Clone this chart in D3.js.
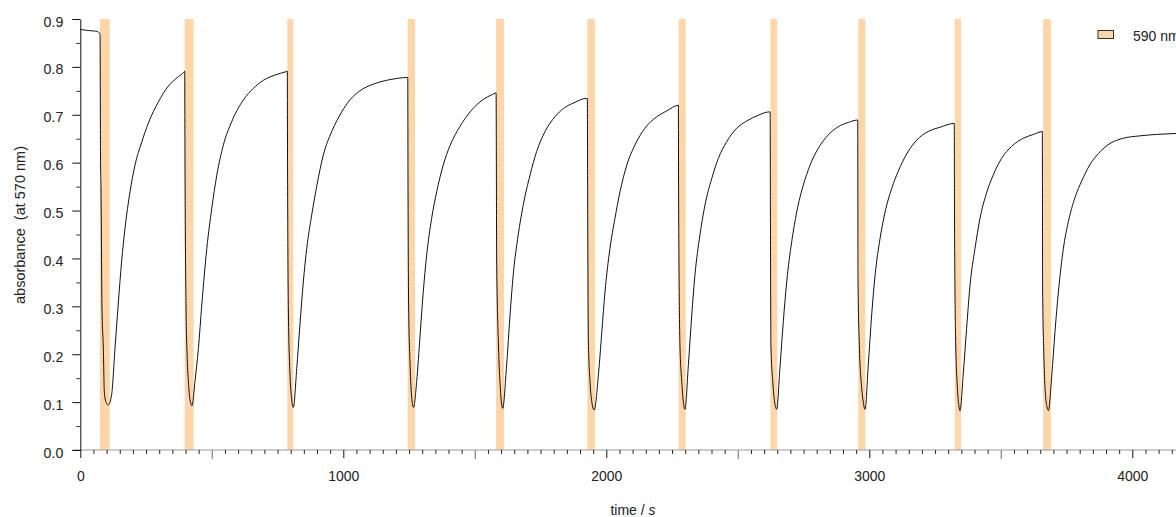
<!DOCTYPE html>
<html>
<head>
<meta charset="utf-8">
<script src="https://cdn.jsdelivr.net/npm/d3@7"></script>
<style>
  html, body { margin: 0; padding: 0; background: #fff; }
  svg { display: block; font-family: "Liberation Sans", Arial, sans-serif; }
</style>
</head>
<body>
<svg id="chart" width="1176" height="517"></svg>
<script>
// ---- data ----
const bandStart = [75, 397, 787, 1245, 1581, 1928, 2275, 2624, 2958, 3325, 3661];
const bandEnd   = [112, 431, 810, 1273, 1611, 1957, 2302, 2650, 2985, 3349, 3691];
const legendLabels = ["590 nm"];
const xTickLabels = [0, 1000, 2000, 3000, 4000];
const yTickLabels = [0, 0.1, 0.2, 0.3, 0.4, 0.5, 0.6, 0.7, 0.8, 0.9];

// trace: [time (s), absorbance]
const cycle00 = [[0,0.878],[15,0.877],[30,0.876],[50,0.875],[65,0.874],[72,0.871],[75,0.868],[77,0.60],[78.7,0.547],[82.5,0.296],[87.6,0.213],[91.4,0.121],[97.7,0.100],[106.5,0.094]];
const cycle01 = [[119,0.115],[132,0.213],[144,0.303],[157,0.393],[170,0.463],[189,0.539],[208,0.595],[233,0.642],[259,0.683],[297,0.727],[335,0.760],[367,0.777],[392,0.788],[397,0.791],[398,0.62],[402,0.30],[406,0.20],[411,0.143],[417,0.105],[425,0.0925]];
const cycle02 = [[436,0.143],[449,0.212],[462,0.303],[481,0.421],[500,0.505],[519,0.574],[544,0.637],[576,0.686],[620,0.731],[658,0.755],[696,0.772],[740,0.783],[782,0.790],[787,0.791],[788,0.60],[791,0.30],[797,0.163],[803,0.11],[810,0.089]];
const cycle03 = [[823,0.170],[835,0.261],[848,0.351],[861,0.421],[880,0.491],[899,0.551],[924,0.616],[956,0.665],[994,0.706],[1025,0.731],[1063,0.750],[1114,0.764],[1165,0.772],[1205,0.776],[1245,0.778],[1246,0.57],[1248,0.317],[1254,0.177],[1260,0.11],[1267,0.089]];
const cycle04 = [[1279,0.143],[1292,0.240],[1304,0.330],[1317,0.407],[1336,0.484],[1355,0.539],[1380,0.595],[1406,0.636],[1444,0.676],[1482,0.706],[1520,0.727],[1577,0.745],[1581,0.746],[1582,0.60],[1583,0.407],[1590,0.219],[1597,0.13],[1606,0.087]];
const cycle05 = [[1621,0.177],[1634,0.282],[1646,0.365],[1665,0.449],[1684,0.511],[1710,0.574],[1735,0.623],[1767,0.665],[1805,0.696],[1837,0.713],[1881,0.726],[1923,0.734],[1928,0.734],[1929,0.55],[1932,0.226],[1938,0.143],[1945,0.10],[1954,0.0835]];
const cycle06 = [[1970,0.157],[1983,0.247],[1995,0.330],[2014,0.421],[2033,0.484],[2052,0.539],[2078,0.595],[2109,0.637],[2147,0.672],[2192,0.696],[2230,0.708],[2274,0.720],[2275,0.526],[2280,0.22],[2287,0.143],[2293,0.10],[2299,0.085]];
const cycle07 = [[2312,0.177],[2325,0.282],[2337,0.365],[2356,0.449],[2375,0.511],[2401,0.567],[2426,0.609],[2458,0.644],[2496,0.672],[2534,0.687],[2578,0.699],[2620,0.706],[2623,0.706],[2624,0.497],[2626,0.22],[2633,0.143],[2640,0.10],[2648,0.085]];
const cycle08 = [[2660,0.170],[2673,0.268],[2686,0.351],[2705,0.435],[2724,0.497],[2749,0.553],[2775,0.595],[2806,0.630],[2844,0.658],[2882,0.675],[2920,0.684],[2956,0.689],[2957,0.359],[2962,0.22],[2971,0.13],[2977,0.10],[2984,0.085]];
const cycle09 = [[2996,0.177],[3009,0.282],[3022,0.365],[3041,0.442],[3060,0.497],[3085,0.546],[3110,0.582],[3142,0.618],[3180,0.647],[3224,0.665],[3269,0.674],[3323,0.682],[3324,0.484],[3328,0.24],[3335,0.129],[3340,0.095],[3345,0.082]];
const cycle10 = [[3357,0.157],[3370,0.254],[3383,0.344],[3402,0.421],[3421,0.484],[3446,0.537],[3471,0.574],[3503,0.609],[3541,0.634],[3586,0.651],[3624,0.659],[3658,0.665],[3659,0.338],[3664,0.192],[3671,0.108],[3676,0.09],[3681,0.082]];
const cycle11 = [[3694,0.157],[3706,0.247],[3719,0.330],[3738,0.421],[3757,0.477],[3782,0.527],[3808,0.562],[3839,0.596],[3871,0.619],[3915,0.640],[3966,0.651],[4029,0.656],[4093,0.659],[4166,0.661],[4250,0.662]];

const trace = [].concat(cycle00, cycle01, cycle02, cycle03, cycle04, cycle05,
                        cycle06, cycle07, cycle08, cycle09, cycle10, cycle11);

// ---- layout ----
const W = 1176, H = 517;
const svg = d3.select("#chart");
const x = d3.scaleLinear().domain([0, 4500]).range([80.3, 80.3 + 4.5 * 263]);
const y = d3.scaleLinear().domain([0, 0.9]).range([450, 19]);
const textColor = "#222";
const bandColor = "#FED6AA";

// bands
svg.append("g").selectAll("rect")
  .data(bandStart.map((s, i) => [s, bandEnd[i]]))
  .join("rect")
  .attr("x", d => x(d[0]))
  .attr("width", d => x(d[1]) - x(d[0]))
  .attr("y", y(0.9))
  .attr("height", y(0) - y(0.9))
  .attr("fill", bandColor);

// trace
svg.append("path")
  .datum(trace)
  .attr("fill", "none")
  .attr("stroke", "#111")
  .attr("stroke-width", 1)
  .attr("d", d3.line().x(d => x(d[0])).y(d => y(d[1])).curve(d3.curveMonotoneX));

// x axis line
svg.append("line")
  .attr("x1", x(0) - 8).attr("x2", W)
  .attr("y1", y(0)).attr("y2", y(0))
  .attr("stroke", "#9a9a9a").attr("stroke-width", 1.2);

// x minor ticks (every 50)
const xMinor = d3.range(50, 4500, 50).filter(v => v % 500 !== 0);
svg.append("g")
  .attr("transform", `translate(0,${y(0)})`)
  .call(d3.axisBottom(x).tickValues(xMinor).tickSize(4).tickFormat(""))
  .call(g => g.select(".domain").remove())
  .call(g => g.selectAll(".tick line").attr("stroke", "#222"));

// x half ticks (500s, gray)
svg.append("g")
  .attr("transform", `translate(0,${y(0)})`)
  .call(d3.axisBottom(x).tickValues([500, 1500, 2500, 3500]).tickSize(9).tickFormat(""))
  .call(g => g.select(".domain").remove())
  .call(g => g.selectAll(".tick line").attr("stroke", "#8a8a8a").attr("stroke-width", 1.3));

// x major ticks with labels
svg.append("g")
  .attr("transform", `translate(0,${y(0)})`)
  .call(d3.axisBottom(x).tickValues(xTickLabels).tickSize(8).tickPadding(13).tickFormat(d3.format("d")))
  .call(g => g.select(".domain").remove())
  .call(g => g.selectAll(".tick line").attr("stroke", "#111"))
  .call(g => g.selectAll(".tick text").attr("fill", textColor)
        .style("font-family", '"Liberation Sans", Arial, sans-serif').style("font-size", "14px"));

// y axis minor ticks
svg.append("g")
  .attr("transform", `translate(${x(0)},0)`)
  .call(d3.axisLeft(y).tickValues(d3.range(0.05, 0.9, 0.1)).tickSize(4).tickFormat(""))
  .call(g => g.select(".domain").remove())
  .call(g => g.selectAll(".tick line").attr("stroke", "#333"));

// y axis major
svg.append("g")
  .attr("transform", `translate(${x(0)},0)`)
  .call(d3.axisLeft(y).tickValues(yTickLabels).tickSize(8).tickSizeOuter(0).tickPadding(9).tickFormat(d3.format(".1f")))
  .call(g => g.select(".domain").attr("stroke", "#111"))
  .call(g => g.selectAll(".tick line").attr("stroke", "#111"))
  .call(g => g.selectAll(".tick text").attr("fill", textColor).attr("dy", "0.5em")
        .style("font-family", '"Liberation Sans", Arial, sans-serif').style("font-size", "14.2px"));

// axis titles
const xt = svg.append("text")
  .attr("x", 633).attr("y", 514.5)
  .attr("text-anchor", "middle")
  .attr("fill", textColor)
  .style("font-size", "14px");
xt.append("tspan").text("time / ");
xt.append("tspan").style("font-style", "italic").text("s");

svg.append("text")
  .attr("transform", "translate(25,225) rotate(-90)")
  .attr("text-anchor", "middle")
  .attr("fill", textColor)
  .style("font-size", "14.5px")
  .style("white-space", "pre")
  .text("absorbance  (at 570 nm)");

// legend
const lg = svg.append("g").attr("transform", "translate(1098,30.5)");
lg.selectAll("rect").data(legendLabels).join("rect")
  .attr("x", 0).attr("y", 0).attr("width", 15.5).attr("height", 8)
  .attr("fill", bandColor).attr("stroke", "#333").attr("stroke-width", 1);
lg.selectAll("text").data(legendLabels).join("text")
  .attr("x", 35).attr("y", 10)
  .attr("fill", textColor)
  .style("font-size", "14px")
  .text(d => d);
</script>
</body>
</html>
